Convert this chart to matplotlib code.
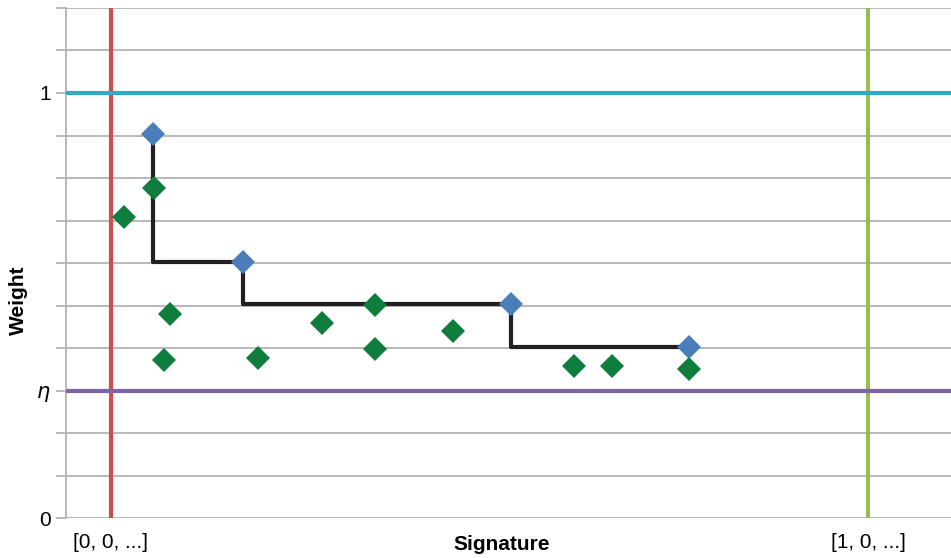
import matplotlib.pyplot as plt
import numpy as np

plt.rcParams['font.family'] = ['Liberation Sans', 'DejaVu Sans']

# accepted signatures (blue) and their weights -> step frontier
front_x = [0.055, 0.174, 0.528, 0.764]
front_w = [0.904, 0.602, 0.503, 0.402]

# other candidate signatures (green)
cand_x = [0.017, 0.057, 0.078, 0.070, 0.194, 0.279, 0.349, 0.349, 0.452, 0.612, 0.662, 0.764]
cand_w = [0.708, 0.776, 0.480, 0.372, 0.376, 0.459, 0.501, 0.398, 0.440, 0.358, 0.358, 0.351]

eta = 0.3
y_ticks = np.round(np.arange(0, 1.21, 0.1), 1)
y_labels = {0.0: '0', 0.3: r'$\eta$', 1.0: '1'}
x_ticks = [0, 1]
x_labels = ['[0, 0, ...]', '[1, 0, ...]']

fig = plt.figure(figsize=(9.51, 5.58), dpi=100)
ax = fig.add_axes([66 / 951, 40 / 558, 885 / 951, 510 / 558])

grey = '#b3b3b3'
fs = 15
ax.set_xlim(-0.0594, 1.1096)
ax.set_ylim(0, 1.2)

ax.set_yticks(y_ticks)
ax.set_yticklabels([y_labels.get(v, '') for v in y_ticks], fontsize=fs)
ax.yaxis.grid(True, color=grey, linewidth=1.3, zorder=0)
ax.tick_params(axis='y', length=7, width=1.3, color=grey, pad=4)

ax.set_xticks(x_ticks)
ax.set_xticklabels(x_labels, fontsize=fs)
ax.tick_params(axis='x', length=0, pad=11)

for s in ['top', 'right', 'bottom']:
    ax.spines[s].set_visible(False)
ax.spines['left'].set_color(grey)
ax.spines['left'].set_linewidth(1.3)

# vertical reference lines
ax.axvline(0, color='#c8504d', linewidth=3, zorder=2)
ax.axvline(1, color='#9bbb59', linewidth=3, zorder=2)
# horizontal reference lines
ax.axhline(1, color='#35a8c3', linewidth=3, zorder=3)
ax.axhline(eta, color='#8064a2', linewidth=3, zorder=3)

ax.plot(front_x, front_w, drawstyle='steps-pre', color='#231f20', linewidth=3, zorder=4)
ax.plot(cand_x, cand_w, 'D', color='#0f7d3d', markersize=12, markeredgewidth=0, zorder=5)
ax.plot(front_x, front_w, 'D', color='#4a7ebb', markersize=12, markeredgewidth=0, zorder=6)

ax.set_ylabel('Weight', fontsize=fs, fontweight='bold')
ax.yaxis.set_label_coords(-0.043, 0.427)
ax.text(0.5165, -0.051, 'Signature', transform=ax.get_xaxis_transform(),
        ha='center', va='center', fontsize=fs, fontweight='bold')

fig.savefig('out.png', dpi=100)
